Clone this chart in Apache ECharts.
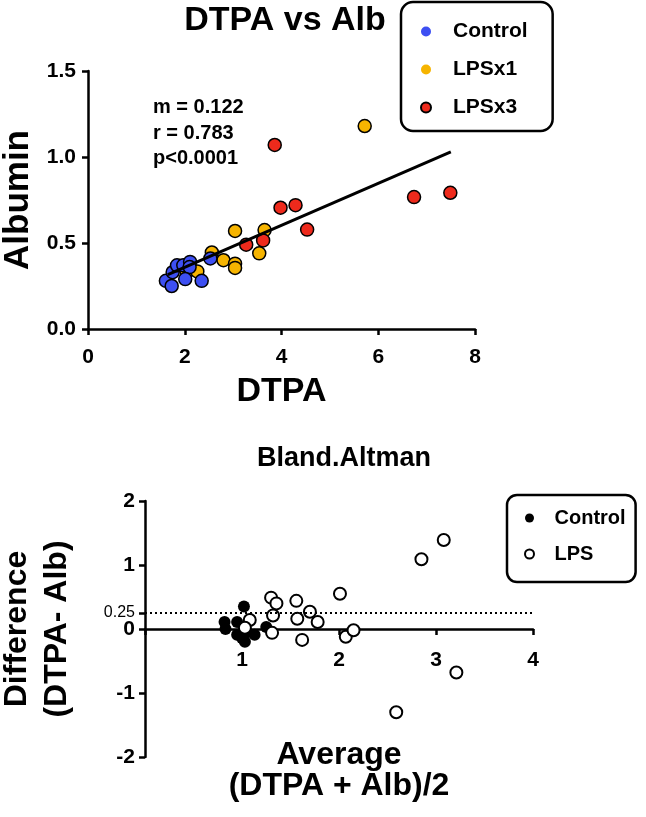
<!DOCTYPE html>
<html>
<head>
<meta charset="utf-8">
<title>DTPA vs Alb</title>
<script src="https://cdn.jsdelivr.net/npm/echarts@6/dist/echarts.min.js"></script>
<style>
  html, body { margin: 0; padding: 0; background: #fff; }
  #chart { width: 646px; height: 817px; }
</style>
</head>
<body>
<div id="chart"></div>
<script>
// DTPA vs Albumin scatter
const controlDtpa = [1.61, 1.73, 1.75, 1.84, 1.97, 2.11, 2.10, 2.01, 2.35, 2.53];
const controlAlb = [0.28, 0.25, 0.33, 0.37, 0.37, 0.39, 0.36, 0.29, 0.28, 0.41];
const lps1Dtpa = [2.04, 2.26, 2.56, 2.80, 3.04, 3.04, 3.04, 3.54, 3.65, 5.72];
const lps1Alb = [0.33, 0.335, 0.445, 0.40, 0.38, 0.355, 0.57, 0.44, 0.575, 1.18];
const lps3Dtpa = [3.27, 3.62, 3.86, 3.98, 4.29, 4.53, 6.74, 7.49];
const lps3Alb = [0.49, 0.515, 1.07, 0.705, 0.72, 0.578, 0.767, 0.792];

// linear fit
const slope = 0.122;
const intercept = 0.115;
const fitRange = [1.65, 7.5];
const rValue = '0.783';
const pText = 'p<0.0001';

// Bland-Altman
const controlAvg = [0.82, 0.83, 0.95, 1.02, 0.95, 1.03, 1.13, 1.25, 1.05, 1.00];
const controlDiff = [0.11, 0.00, 0.11, 0.35, -0.09, -0.20, -0.09, 0.03, -0.05, -0.14];
const lpsAvg = [1.08, 1.03, 1.30, 1.355, 1.32, 1.31, 1.56, 1.57, 1.62, 1.70, 1.78, 2.01, 2.07, 2.15, 2.59, 2.85, 3.08, 3.21];
const lpsDiff = [0.14, 0.02, 0.49, 0.40, 0.21, -0.06, 0.44, 0.16, -0.17, 0.27, 0.11, 0.55, -0.12, -0.02, -1.30, 1.09, 1.39, -0.68];
const biasLine = 0.25;
const baTicks = [-2, -1, 0, 0.25, 1, 2];

const font = "'Liberation Sans', Arial, sans-serif";

function zip(xs, ys) {
    return xs.map((x, i) => [x, ys[i]]);
}

let myChart = echarts.init(document.getElementById('chart'));

const axisLine = { show: true, onZero: false, lineStyle: { color: '#000', width: 2.5 } };
const axisTick = { show: true, inside: false, length: 6, lineStyle: { color: '#000', width: 2.5 } };
const tickLabel = { color: '#000', fontFamily: font, fontWeight: 'bold', fontSize: 21 };
const bigName = { color: '#000', fontFamily: font, fontWeight: 'bold', fontSize: 34 };

const dotBorder = { borderColor: '#000', borderWidth: 1.5 };

let option = {
    animation: false,
    backgroundColor: '#fff',
    title: [
        {
            text: 'DTPA vs Alb',
            left: 280, top: -1, textAlign: 'center',
            textStyle: { fontFamily: font, fontWeight: 'bold', fontSize: 34, color: '#000' }
        },
        {
            text: 'Bland.Altman',
            left: 339, top: 440, textAlign: 'center',
            textStyle: { fontFamily: font, fontWeight: 'bold', fontSize: 27, color: '#000' }
        },
        {
            text: 'm = ' + slope + '\nr = ' + rValue + '\n' + pText,
            left: 148, top: 90,
            textStyle: { fontFamily: font, fontWeight: 'bold', fontSize: 20, lineHeight: 25.5, color: '#000' }
        }
    ],
    legend: [
        {
            orient: 'vertical',
            left: 401, top: 2,
            padding: [19, 25, 13, 19],
            itemGap: 17,
            itemWidth: 44, itemHeight: 10,
            icon: 'circle',
            borderColor: '#000', borderWidth: 2.5, borderRadius: 12,
            textStyle: { fontFamily: font, fontWeight: 'bold', fontSize: 21, lineHeight: 20, color: '#000' },
            data: [
                { name: 'Control', itemStyle: { borderWidth: 0 } },
                { name: 'LPSx1', itemStyle: { borderWidth: 0 } },
                { name: 'LPSx3' }
            ]
        },
        {
            orient: 'vertical',
            left: 507, top: 495,
            padding: [13, 10, 18, 17],
            itemGap: 16,
            itemWidth: 40, itemHeight: 9,
            icon: 'circle',
            borderColor: '#000', borderWidth: 2.5, borderRadius: 10,
            textStyle: { fontFamily: font, fontWeight: 'bold', fontSize: 20, lineHeight: 20, color: '#000' },
            formatter: name => name.replace(' BA', ''),
            data: ['Control BA', 'LPS']
        }
    ],
    grid: [
        { left: 88, top: 71, width: 387, height: 258, containLabel: false, outerBoundsMode: 'none' },
        { left: 145, top: 501, width: 388, height: 256, containLabel: false, outerBoundsMode: 'none' },
        // upper half of the Bland-Altman plot, carries the visible x axis at y = 0
        { left: 145, top: 501, width: 388, height: 128, containLabel: false, outerBoundsMode: 'none' }
    ],
    xAxis: [
        {
            type: 'value', gridIndex: 0,
            min: 0, max: 8, interval: 2,
            name: 'DTPA', nameLocation: 'middle', nameGap: 46,
            nameTextStyle: bigName,
            axisLine: axisLine, axisTick: axisTick,
            axisLabel: Object.assign({ margin: 18 }, tickLabel),
            splitLine: { show: false }
        },
        {
            type: 'value', gridIndex: 1, show: false,
            min: 0, max: 4, interval: 1,
            splitLine: { show: false }
        },
        {
            type: 'value', gridIndex: 2,
            min: 0, max: 4, interval: 1,
            name: 'Average\n(DTPA + Alb)/2', nameLocation: 'middle', nameGap: 111,
            nameTextStyle: Object.assign({}, bigName, { fontSize: 32, lineHeight: 31 }),
            axisLine: axisLine, axisTick: axisTick,
            axisLabel: Object.assign({ margin: 21, formatter: v => (v === 0 ? '' : String(v)) }, tickLabel),
            splitLine: { show: false }
        }
    ],
    yAxis: [
        {
            type: 'value', gridIndex: 0,
            min: 0, max: 1.5, interval: 0.5,
            name: 'Albumin', nameLocation: 'middle', nameGap: 52,
            nameTextStyle: Object.assign({}, bigName, { fontSize: 35 }),
            axisLine: axisLine, axisTick: axisTick,
            axisLabel: Object.assign({ margin: 12, formatter: v => v.toFixed(1) }, tickLabel),
            splitLine: { show: false }
        },
        {
            type: 'value', gridIndex: 1,
            min: -2, max: 2, interval: 1,
            name: 'Difference\n(DTPA- Alb)', nameLocation: 'middle', nameGap: 68,
            nameTextStyle: Object.assign({}, bigName, { fontSize: 32, lineHeight: 40 }),
            axisLine: axisLine,
            axisTick: Object.assign({ customValues: baTicks }, axisTick),
            axisLabel: Object.assign({
                margin: 10,
                customValues: baTicks,
                formatter: v => (v === biasLine ? '{s|' + v + '}' : String(v)),
                rich: { s: { fontFamily: font, fontWeight: 'normal', fontSize: 16, color: '#000' } }
            }, tickLabel),
            splitLine: { show: false }
        },
        {
            type: 'value', gridIndex: 2, show: false,
            min: 0, max: 2
        }
    ],
    series: [
        {
            name: 'LPSx1', type: 'scatter', xAxisIndex: 0, yAxisIndex: 0,
            symbolSize: 13,
            itemStyle: Object.assign({ color: '#f6b400', opacity: 1 }, dotBorder),
            data: zip(lps1Dtpa, lps1Alb), z: 2
        },
        {
            name: 'Control', type: 'scatter', xAxisIndex: 0, yAxisIndex: 0,
            symbolSize: 13,
            itemStyle: Object.assign({ color: '#3d4ff2', opacity: 1 }, dotBorder),
            data: zip(controlDtpa, controlAlb), z: 3
        },
        {
            name: 'LPSx3', type: 'scatter', xAxisIndex: 0, yAxisIndex: 0,
            symbolSize: 13,
            itemStyle: Object.assign({ color: '#ee2a1c', opacity: 1 }, dotBorder),
            data: zip(lps3Dtpa, lps3Alb), z: 4
        },
        {
            name: 'fit', type: 'line', xAxisIndex: 0, yAxisIndex: 0,
            symbol: 'none', silent: true,
            lineStyle: { color: '#000', width: 3 },
            data: fitRange.map(x => [x, slope * x + intercept]), z: 5
        },
        {
            name: 'Control BA', type: 'scatter', xAxisIndex: 1, yAxisIndex: 1,
            symbolSize: 12,
            itemStyle: { color: '#000', opacity: 1 },
            data: zip(controlAvg, controlDiff),
            markLine: {
                silent: true, symbol: 'none',
                label: { show: false },
                lineStyle: { color: '#000', width: 2, type: [2, 3] },
                data: [[{ coord: [0, biasLine] }, { coord: [4, biasLine] }]]
            }
        },
        {
            name: 'LPS', type: 'scatter', xAxisIndex: 1, yAxisIndex: 1,
            symbolSize: 12,
            itemStyle: { color: '#fff', borderColor: '#000', borderWidth: 2, opacity: 1 },
            data: zip(lpsAvg, lpsDiff)
        }
    ]
};

myChart.setOption(option);
</script>
</body>
</html>
